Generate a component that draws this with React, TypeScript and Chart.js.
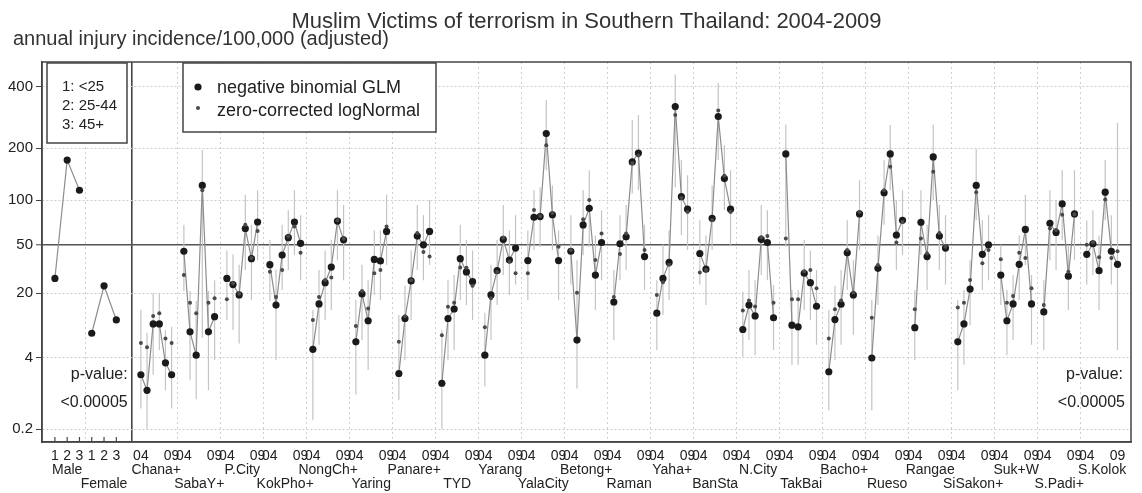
import React, { useEffect, useRef } from "react";
import { Chart, registerables, LinearScale } from "chart.js";

Chart.register(...registerables);

// ---------------- data ----------------
const titleText = "Muslim Victims of terrorism in Southern Thailand: 2004-2009";
const yAxisTitle = "annual injury incidence/100,000 (adjusted)";
const seriesLabels = ["negative binomial GLM", "zero-corrected logNormal"];
const ageLegend = ["1: <25", "2: 25-44", "3: 45+"];
const pValueLines = ["p-value:", "<0.00005"];

const ageGroups = ["1", "2", "3"];
const sexLabels = ["Male", "Female"];
const maleRates = [27, 172, 115];
const femaleRates = [7.9, 23.3, 11.0];

const districts = [
  "Chana+", "SabaY+", "P.City", "KokPho+", "NongCh+", "Yaring", "Panare+", "TYD",
  "Yarang", "YalaCity", "Betong+", "Raman", "Yaha+", "BanSta", "N.City", "TakBai",
  "Bacho+", "Rueso", "Rangae", "SiSakon+", "Suk+W", "S.Padi+", "S.Kolok",
];
const yearLabels = ["04", "05", "06", "07", "08", "09"];

// negative binomial GLM (one row per district, 2004..2009)
const glmRates = [
  [2.3, 1.3, 10.0, 10.0, 3.4, 2.3],
  [44.5, 8.2, 4.3, 123, 8.2, 11.9],
  [27, 23.9, 19.3, 65, 39, 72],
  [35, 15.5, 41.6, 56, 72, 51],
  [5.1, 15.9, 24.8, 33.5, 73, 54],
  [6.3, 19.7, 10.8, 38.5, 37.5, 62],
  [2.4, 11.4, 25.7, 57.5, 49.7, 62],
  [1.7, 11.4, 14.2, 39, 30.6, 25.3],
  [4.3, 19.3, 31.3, 54.4, 38.1, 47],
  [37.7, 77.5, 78.3, 238, 80.5, 37.7],
  [44.5, 6.6, 68.8, 88.6, 28.8, 51.7],
  [16.6, 50.6, 56.8, 168, 188, 40.5],
  [12.9, 27, 36.5, 324, 105, 87.5],
  [42.8, 32.2, 76.3, 290, 135, 87.5],
  [8.7, 15.5, 12.1, 54.4, 51.7, 11.6],
  [186, 9.7, 9.3, 29.8, 24.8, 15.1],
  [2.55, 11.1, 15.8, 43.3, 19.3, 81.5],
  [3.95, 32.7, 111, 186, 58.5, 74],
  [9.1, 71.7, 40.5, 179, 57.5, 47],
  [6.3, 10.0, 21.8, 123, 42.2, 49.7],
  [28.8, 10.8, 15.9, 35.2, 64, 15.9],
  [13.3, 70.5, 61, 94.5, 28.2, 81.5],
  [42.2, 50.6, 31.3, 112, 44.5, 35.2],
];

// zero-corrected logNormal
const logNormalRates = [
  [6.1, 5.4, 12.1, 12.9, 6.9, 6.1],
  [28.8, 16.3, 12.9, 115, 16.3, 18.0],
  [17.6, 24.5, 19.8, 69, 39.5, 62.5],
  [30.7, 18.5, 31.7, 57, 67, 43.3],
  [11.0, 18.5, 26.1, 27.5, 74, 55],
  [9.5, 21, 14.4, 29.8, 31.7, 67],
  [6.3, 12, 26, 60.5, 44, 40.5],
  [7.5, 14.9, 16.3, 33.3, 33, 23.3],
  [9.2, 18, 30.5, 56, 37, 29.8],
  [29.8, 86.5, 79, 207, 82.5, 48],
  [45.4, 20.2, 75, 100, 38.1, 60],
  [18.5, 42.5, 60, 165, 182, 45.4],
  [19.3, 25, 35, 295, 103, 84],
  [30.2, 31.7, 74.3, 310, 140, 84],
  [13.7, 17.1, 15, 56.5, 57.5, 16.3],
  [55.3, 17.6, 17.6, 31, 31.7, 22.2],
  [6.9, 14.1, 17.1, 45.4, 20.3, 84],
  [11.6, 34.8, 115, 158, 51.7, 72],
  [14.1, 55.3, 42.8, 148, 60.5, 48],
  [14.7, 16.3, 26.1, 112, 36, 45.4],
  [38.6, 16.3, 18.9, 43.3, 39.5, 22.2],
  [15.5, 65, 63.4, 80.5, 30.7, 81],
  [49.7, 52, 40, 101, 39.5, 44.5],
];

// interval bounds (light vertical bars)
const ciLower = [
  [0.6, 0.2, 2.3, 5, 1.3, 0.6],
  [21, 1.9, 0.9, 7, 1.3, 3.7],
  [11, 8.6, 6, 31.7, 17.3, 38],
  [17, 3.7, 21.4, 31.7, 41.6, 26],
  [0.33, 5.8, 11, 13.9, 38, 26],
  [1.1, 6.6, 2.7, 19.3, 17.3, 34.8],
  [0.87, 3.7, 11, 31.7, 26, 34.8],
  [0.2, 3.7, 5, 17.3, 15.5, 11],
  [1.5, 6.6, 15.5, 28.8, 19.3, 23.9],
  [17.3, 45.4, 47.8, 151, 45.4, 17.3],
  [23.9, 1.4, 41.6, 47.8, 13.9, 26],
  [6.6, 26, 31.7, 110, 115, 21.4],
  [5, 12.4, 17.3, 120, 58.5, 45.4],
  [23.9, 15.5, 45.4, 172, 86.5, 49.7],
  [4.1, 6.6, 4.3, 28.8, 26, 5],
  [48, 3.2, 3.2, 13.9, 11, 5.8],
  [0.55, 3.7, 5.8, 21.4, 7.6, 45.4],
  [0.55, 15.5, 69, 115, 31.7, 41.6],
  [3.7, 41.6, 21.4, 100, 31.7, 23.9],
  [1.3, 3.2, 9.7, 74, 21.4, 26],
  [15.5, 4.3, 6.6, 17.3, 34.8, 5.8],
  [5, 38, 31.7, 53.8, 13.9, 38],
  [23.9, 28.8, 13.9, 74, 23.9, 5],
];
const ciUpper = [
  [14, 8, 20, 20, 8.6, 9.3],
  [69, 21, 17, 195, 21, 26],
  [45, 42, 35, 108, 69, 115],
  [54, 32, 69, 86, 115, 80],
  [13.9, 31.7, 45, 54, 115, 93],
  [17.3, 35, 26, 63, 63, 108],
  [12.4, 23.3, 45, 93, 80, 100],
  [8.6, 26, 28.8, 69, 54, 45],
  [13, 35, 54, 93, 63, 80],
  [63, 115, 120, 348, 123, 63],
  [80, 38, 115, 151, 58, 86],
  [31.7, 80, 93, 279, 295, 69],
  [26, 50, 63, 455, 172, 141],
  [74, 58, 123, 418, 207, 151],
  [20.7, 31.7, 26, 93, 86, 23.6],
  [265, 21.4, 21.4, 54, 45, 31.7],
  [13.9, 23.3, 31.7, 74, 38, 132],
  [17.3, 58, 172, 263, 100, 115],
  [21.4, 115, 69, 265, 93, 80],
  [17.3, 21.4, 38, 197, 74, 80],
  [49.7, 21.4, 28.8, 58, 108, 28.8],
  [26, 115, 100, 151, 49.7, 151],
  [74, 86, 58, 172, 80, 270],
];

const yTicks = [0.2, 4, 20, 50, 100, 200, 400];
const referenceRate = 50;

// ---------------- layout helpers ----------------
const FONT = "'Liberation Sans', Arial, Helvetica, sans-serif";
const POWER = 0.23;
const slot = (d: number, j: number) => d * 7 + j;
const ageSlot = (s: number, a: number) => -14 + 6 * s + 2 * a;

class PowerScale extends LinearScale {
  static id = "power";
  static defaults = {};
  getPixelForValue(value: any) {
    if (value === null || value === undefined || isNaN(value)) return NaN;
    const lo = Math.pow(this.min, POWER);
    const hi = Math.pow(this.max, POWER);
    const t = (Math.pow(Math.max(value, 0), POWER) - lo) / (hi - lo);
    return this.getPixelForDecimal(t);
  }
  getValueForPixel(pixel: number) {
    const lo = Math.pow(this.min, POWER);
    const hi = Math.pow(this.max, POWER);
    const t = this.getDecimalForPixel(pixel);
    return Math.pow(lo + t * (hi - lo), 1 / POWER);
  }
}
Chart.register(PowerScale as any);

type XTick = { value: number; label: string | string[]; kind: string };
const xTicks: XTick[] = [];
sexLabels.forEach((sex, s) => {
  ageGroups.forEach((g, a) => {
    let label: string | string[] = g;
    if (a === 1) label = s === 0 ? [g, sex] : [g, "", sex];
    xTicks.push({ value: ageSlot(s, a), label, kind: "age" });
  });
});
xTicks.push({ value: -9, label: "", kind: "grid" });
xTicks.push({ value: -1.5, label: "", kind: "divider" });
districts.forEach((name, d) => {
  if (d > 0) xTicks.push({ value: slot(d, 0) - 1, label: "", kind: "grid" });
  xTicks.push({ value: slot(d, 0), label: yearLabels[0], kind: "label" });
  xTicks.push({ value: slot(d, 2.5), label: d % 2 === 0 ? ["", name] : ["", "", name], kind: "label" });
  xTicks.push({ value: slot(d, 5), label: yearLabels[5], kind: "label" });
});
xTicks.sort((a, b) => a.value - b.value);

const glmData: any[] = [];
[maleRates, femaleRates].forEach((rates, s) => {
  rates.forEach((v, a) => glmData.push({ x: ageSlot(s, a), y: v }));
  glmData.push({ x: ageSlot(s, 2) + 1, y: null });
});
districts.forEach((_, d) => {
  glmRates[d].forEach((v, j) => glmData.push({ x: slot(d, j), y: v }));
  glmData.push({ x: slot(d, 5) + 1, y: null });
});
const lnData: any[] = [];
districts.forEach((_, d) => {
  logNormalRates[d].forEach((v, j) => lnData.push({ x: slot(d, j), y: v }));
});

const decorPlugin = {
  id: "decor",
  beforeDatasetsDraw(chart: any) {
    const { ctx, chartArea: a, scales } = chart;
    const x = scales.x;
    const y = scales.y;
    ctx.save();
    ctx.beginPath();
    ctx.rect(a.left, a.top, a.right - a.left, a.bottom - a.top);
    ctx.clip();
    ctx.strokeStyle = "#c4c4c4";
    ctx.lineWidth = 1.2;
    districts.forEach((_, d) => {
      yearLabels.forEach((__, j) => {
        const px = x.getPixelForValue(slot(d, j));
        ctx.beginPath();
        ctx.moveTo(px, y.getPixelForValue(ciLower[d][j]));
        ctx.lineTo(px, y.getPixelForValue(ciUpper[d][j]));
        ctx.stroke();
      });
    });
    ctx.restore();
  },
  afterDraw(chart: any) {
    const { ctx, chartArea: a, scales } = chart;
    const x = scales.x;
    ctx.save();
    // frame
    ctx.strokeStyle = "#444";
    ctx.lineWidth = 1.5;
    ctx.strokeRect(a.left, a.top, a.right - a.left, a.bottom - a.top);
    // inner tick marks of the age/sex panel
    ctx.lineWidth = 1.2;
    sexLabels.forEach((_, s) =>
      ageGroups.forEach((__, g) => {
        const px = x.getPixelForValue(ageSlot(s, g));
        ctx.beginPath();
        ctx.moveTo(px, a.bottom);
        ctx.lineTo(px, a.bottom - 5);
        ctx.stroke();
      })
    );
    // title + axis title
    ctx.fillStyle = "#333";
    ctx.textBaseline = "alphabetic";
    ctx.textAlign = "center";
    ctx.font = `22px ${FONT}`;
    ctx.fillText(titleText, (a.left + a.right) / 2, 28);
    ctx.textAlign = "left";
    ctx.font = `20px ${FONT}`;
    ctx.fillText(yAxisTitle, 13, 45);

    // age legend box
    ctx.strokeStyle = "#444";
    ctx.lineWidth = 1.5;
    ctx.fillStyle = "#fff";
    ctx.fillRect(a.left + 5, a.top + 1, 80, 80);
    ctx.strokeRect(a.left + 5, a.top + 1, 80, 80);
    ctx.fillStyle = "#222";
    ctx.font = `15px ${FONT}`;
    ctx.textBaseline = "middle";
    ageLegend.forEach((t, i) => ctx.fillText(t, a.left + 20, a.top + 25 + i * 19));

    // series legend box
    const lx = a.left + 141;
    const ly = a.top + 1;
    ctx.fillStyle = "#fff";
    ctx.fillRect(lx, ly, 253, 69);
    ctx.strokeRect(lx, ly, 253, 69);
    ctx.fillStyle = "#1a1a1a";
    ctx.beginPath();
    ctx.arc(lx + 15, ly + 24, 3.6, 0, Math.PI * 2);
    ctx.fill();
    ctx.fillStyle = "#4a4a4a";
    ctx.beginPath();
    ctx.arc(lx + 15, ly + 45, 2, 0, Math.PI * 2);
    ctx.fill();
    ctx.fillStyle = "#222";
    ctx.font = `18px ${FONT}`;
    ctx.fillText(seriesLabels[0], lx + 34, ly + 25);
    ctx.fillText(seriesLabels[1], lx + 34, ly + 48);

    // p-values
    ctx.textAlign = "right";
    ctx.font = `16px ${FONT}`;
    const divX = x.getPixelForValue(-1.5);
    ctx.fillText(pValueLines[0], divX - 4, 375);
    ctx.fillText(pValueLines[1], divX - 4, 403);
    ctx.fillText(pValueLines[0], a.right - 8, 375);
    ctx.fillText(pValueLines[1], a.right - 6, 403);
    ctx.restore();
  },
};

export default function App() {
  const ref = useRef<HTMLCanvasElement | null>(null);
  useEffect(() => {
    const canvas = ref.current;
    if (!canvas) return;
    const chart = new Chart(canvas, {
      type: "line",
      data: {
        datasets: [
          {
            label: seriesLabels[1],
            data: lnData,
            showLine: false,
            pointRadius: 2,
            pointBorderWidth: 0,
            pointBackgroundColor: "#4a4a4a",
            order: 0,
          } as any,
          {
            label: seriesLabels[0],
            data: glmData,
            showLine: true,
            spanGaps: false,
            borderColor: "#8c8c8c",
            borderWidth: 1.2,
            pointRadius: 3.6,
            pointBorderWidth: 0,
            pointBackgroundColor: "#1a1a1a",
            order: 1,
          } as any,
        ],
      },
      options: {
        responsive: false,
        animation: false,
        events: [],
        layout: { padding: { top: 62, right: 11, left: 0, bottom: 0 } },
        plugins: { legend: { display: false }, tooltip: { enabled: false }, title: { display: false } },
        scales: {
          x: {
            type: "linear",
            min: -16.1,
            max: 161.2,
            bounds: "data",
            afterBuildTicks: (scale: any) => {
              scale.ticks = xTicks.map((t) => ({ value: t.value }));
            },
            afterFit: (scale: any) => {
              scale.height = 51;
            },
            ticks: {
              autoSkip: false,
              maxRotation: 0,
              minRotation: 0,
              padding: 7,
              color: "#222",
              font: { family: FONT, size: 14, lineHeight: 1 },
              callback: (_v: any, i: number) => (xTicks[i] ? xTicks[i].label : ""),
            },
            grid: {
              drawTicks: false,
              color: (c: any) => {
                const t = xTicks[c.index];
                if (!t) return "#444";
                if (t.kind === "divider") return "#444";
                if (t.kind === "grid") return "#d0d0d0";
                return "rgba(0,0,0,0)";
              },
              lineWidth: (c: any) => {
                const t = xTicks[c.index];
                return t && t.kind === "divider" ? 1.6 : 1;
              },
            },
            border: {
              color: "#444",
              width: 1.5,
              dash: (c: any) => {
                const t = xTicks[c.index];
                return t && t.kind === "grid" ? [2, 3] : [];
              },
            },
          } as any,
          y: {
            type: "power",
            min: 0.085,
            max: 516,
            bounds: "data",
            afterBuildTicks: (scale: any) => {
              scale.ticks = yTicks.map((v) => ({ value: v }));
            },
            afterFit: (scale: any) => {
              scale.width = 42;
            },
            ticks: {
              padding: 3,
              color: "#222",
              font: { family: FONT, size: 15 },
              callback: (v: any) => String(v),
            },
            grid: {
              color: (c: any) => (c.tick && c.tick.value === referenceRate ? "#555" : "#cdcdcd"),
              lineWidth: (c: any) => (c.tick && c.tick.value === referenceRate ? 1.6 : 1),
              tickColor: "#444",
              tickLength: 6,
              tickWidth: 1,
            },
            border: {
              color: "#444",
              width: 1.5,
              dash: (c: any) => (c.tick && c.tick.value === referenceRate ? [] : [2, 2]),
            },
          } as any,
        },
      } as any,
      plugins: [decorPlugin],
    });
    return () => chart.destroy();
  }, []);
  return (
    <div style={{ position: "fixed", left: 0, top: 0, width: 1142, height: 493, background: "#fff" }}>
      <canvas ref={ref} width={1142} height={493} style={{ width: 1142, height: 493, display: "block" }} />
    </div>
  );
}
